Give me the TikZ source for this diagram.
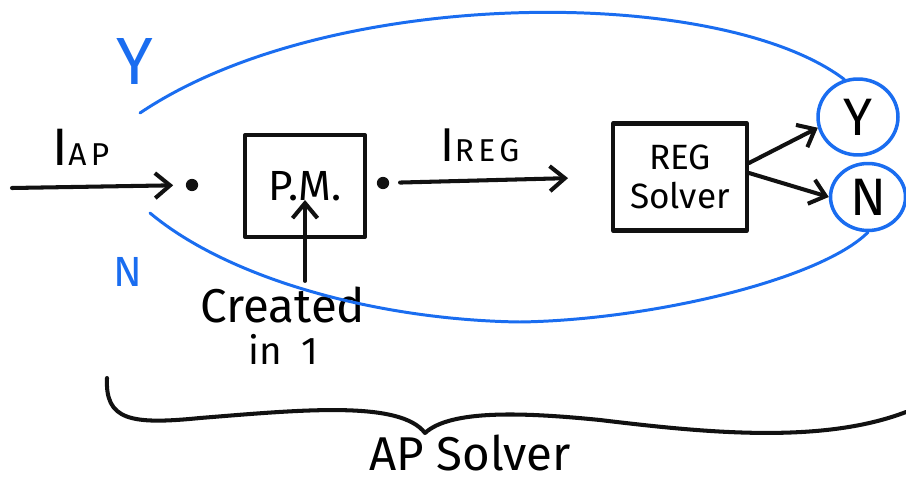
\documentclass[tikz,border=0pt]{standalone}
\usepackage{fontspec}
\setmainfont{Fira Sans}
\newfontfamily\spaced[LetterSpace=14]{Fira Sans}
\usetikzlibrary{arrows.meta, shapes.geometric}
\usepackage{xcolor}
\definecolor{pen-black}{HTML}{111111}
\definecolor{pen-blue}{HTML}{1A6DF0}

\newcommand{\fsz}[1]{\fontsize{#1}{#1}\selectfont}

\begin{document}
\begin{tikzpicture}[x=0.02cm, y=-0.02cm, line cap=round, line join=round,
    ink/.style={draw=pen-black, line width=2.3pt},
    box/.style={ink, align=center, inner sep=0pt},
    answer/.style={ellipse, draw=pen-blue, line width=2pt, inner sep=0pt},
    loop/.style={draw=pen-blue, line width=1.7pt},
    flow/.style={ink, -{Straight Barb[length=3mm, width=5mm]}},
    junction/.style={circle, fill=pen-black, inner sep=0pt, minimum size=7pt}]
    % Layout in pixel units (x right, y down), page 906 x 483
    %   P.M. box centred at (305,186), REG box at (680,177)
    %   answer ellipses Y at (858,117) and N at (868,197)
    %   brace spans y 378..433 under everything
    \useasboundingbox (0,0) rectangle (906,483);

    % blocks
    \node[junction] (inl) at (192,185) {};
    \node[box, minimum width=2.4cm, minimum height=2.04cm, font=\fsz{24}]
          (pm) at (305,186) {P.M.};
    \node[junction] (inr) at (383,183) {};
    \node[box, minimum width=2.68cm, minimum height=2.14cm, font=\fsz{20}]
          (reg) at (680,177) {REG\\[2pt]Solver};
    \node[answer, minimum width=1.6cm, minimum height=1.52cm, font=\fsz{30}]
          (yes) at (858,117) {Y};
    \node[answer, minimum width=1.5cm, minimum height=1.34cm, font=\fsz{30}]
          (no) at (868,197) {N};

    % input and internal flow
    \coordinate (src) at (12,188);
    \draw[flow, shorten >=7pt] (src) -- (inl);
    \node (iap) at (81,147) {\fsz{30}I\spaced\fsz{18}AP};
    \draw[flow, shorten <=6pt, shorten >=0.86cm] (inr) -- (reg.west);
    \node (ireg) at (480,145) {\fsz{27}I\spaced\fsz{18}REG};
    \draw[flow] ([yshift=0.28cm]reg.east) -- (yes.195);
    \draw[flow] ([yshift=0.08cm]reg.east) -- (no.west);

    % note under the P.M. box
    \node[align=center, font=\fsz{27}] (created) at (283,326)
          {Created\\[-3pt]{\fsz{22}in\hspace{0.5em}1}};
    \draw[flow] (created.north -| pm.center) -- ([yshift=-0.28cm]pm.center);

    % feedback loops
    \coordinate (yesend) at (140,113);
    \draw[loop] (yes.110) .. controls (720,-15) and (330,-15) .. (yesend);
    \node[text=pen-blue, font=\fsz{38}] (yeslab) at (135,62) {Y};
    \coordinate (noend) at (150,213);
    \draw[loop] (no.south) .. controls (820,280) and (650,320) .. (520,322)
          .. controls (380,320) and (230,280) .. (noend);
    \node[text=pen-blue, font=\fsz{24}] (nolab) at (128,272) {N};

    % brace
    \coordinate (braceL) at (107,378);
    \coordinate (braceTip) at (425,433);
    \coordinate (braceR) at (906,412);
    \draw[ink] (braceL) .. controls (105,420) and (130,425) .. (200,418)
          .. controls (300,410) and (400,400) .. (braceTip)
          .. controls (450,410) and (520,412) .. (600,420)
          .. controls (700,432) and (820,445) .. (braceR);
    \node[font=\fsz{27}, inner sep=0pt] (apsolver) at (470,453) {AP Solver};
\end{tikzpicture}
\end{document}
